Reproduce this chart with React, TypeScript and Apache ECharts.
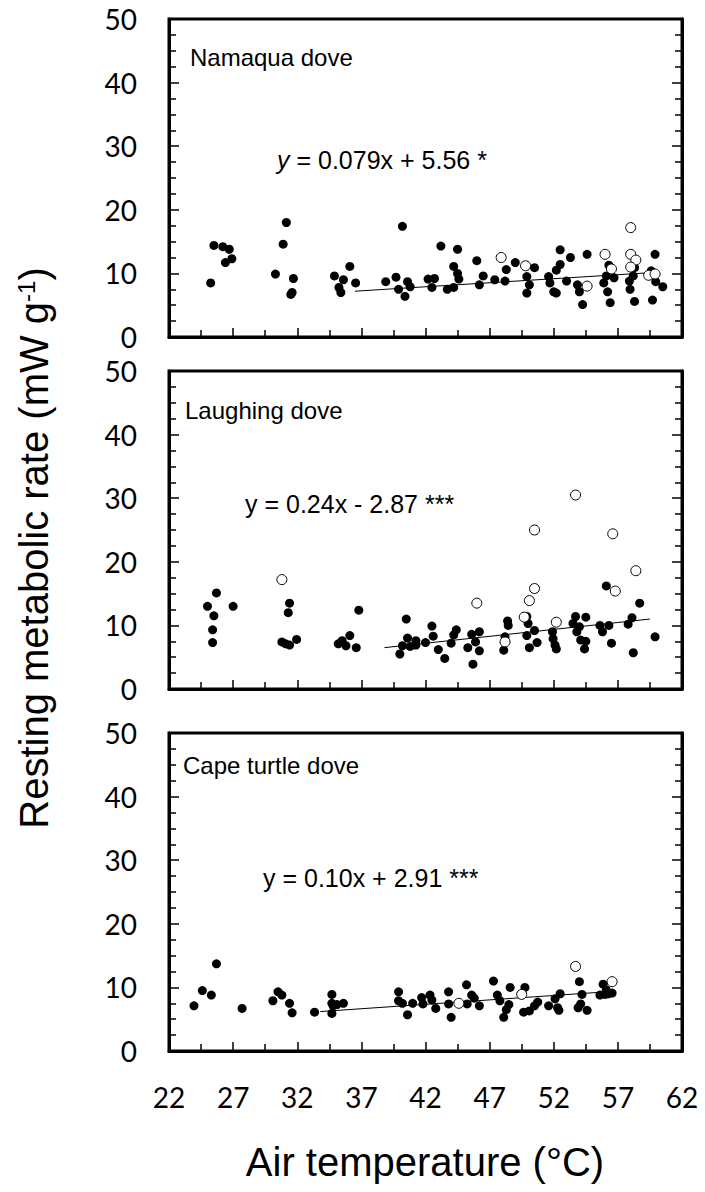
import React, { useEffect, useRef } from "react";
import * as echarts from "echarts";

// ---- data (air temperature °C, resting metabolic rate mW/g) ----
const panelTitles = ["Namaqua dove", "Laughing dove", "Cape turtle dove"];

const namaquaFilled: number[][] = [
  [25.25, 8.5], [25.5, 14.4], [26.2, 14.2], [26.7, 13.8], [26.9, 12.3], [26.4, 11.7],
  [30.3, 9.9], [30.9, 14.6], [31.15, 18.0], [31.7, 9.2], [31.5, 6.7], [31.6, 7.0],
  [34.9, 9.6], [35.25, 7.8], [35.4, 7.0], [35.6, 9.0], [36.1, 11.1], [36.55, 8.5],
  [38.9, 8.7], [39.7, 9.4], [40.2, 17.4], [39.9, 7.5], [40.4, 6.4], [40.6, 8.7], [40.8, 7.9],
  [42.2, 9.1], [42.7, 9.2], [42.5, 7.8], [43.2, 14.3],
  [44.5, 13.8], [44.2, 11.1], [44.5, 10.0], [44.6, 9.1], [43.7, 7.5], [44.2, 7.8],
  [46.0, 12.0], [46.5, 9.6], [46.2, 8.2], [47.4, 9.0], [48.3, 10.6], [48.2, 8.8], [49.0, 11.7],
  [50.5, 10.9], [49.9, 9.5], [50.1, 8.2], [49.9, 6.9], [51.6, 9.5], [51.7, 8.5],
  [52.5, 13.7], [52.5, 11.4], [52.2, 10.5], [53.3, 12.5], [52.0, 7.1], [52.2, 6.9], [53.0, 8.8],
  [53.85, 8.2], [54.0, 7.1], [54.25, 5.1], [54.6, 13.0],
  [56.3, 11.3], [56.1, 9.6], [55.9, 8.5], [56.7, 9.3], [56.2, 7.1], [56.4, 5.4],
  [58.3, 10.9], [58.2, 9.6], [57.9, 8.8], [57.95, 7.5], [58.3, 5.6],
  [59.9, 13.0], [59.6, 10.4], [59.95, 8.7], [60.5, 7.9], [59.7, 5.8],
];
const namaquaOpen: number[][] = [
  [47.9, 12.5], [49.8, 11.2], [54.6, 8.0], [56.0, 13.0], [56.5, 10.7],
  [58.0, 17.2], [58.0, 13.0], [58.4, 12.1], [58.0, 11.0], [59.4, 9.7], [59.9, 9.9],
];
const namaquaFit: number[][] = [[36.5, 7.2], [60.2, 10.2]];

const laughingFilled: number[][] = [
  [25.0, 13.0], [25.7, 15.1], [25.5, 11.5], [25.4, 9.3], [25.4, 7.3], [27.0, 13.0],
  [31.4, 13.5], [31.3, 12.0], [30.8, 7.4], [31.1, 7.1], [31.4, 6.9], [31.95, 7.8],
  [35.2, 7.1], [35.5, 7.6], [35.8, 6.8], [36.1, 8.4], [36.6, 6.5], [36.8, 12.4],
  [40.0, 5.5], [40.2, 6.8], [40.5, 11.0], [40.6, 8.0], [40.8, 6.7], [41.25, 7.6], [41.25, 6.9],
  [42.0, 7.3], [42.5, 9.9], [42.6, 8.3], [43.0, 6.2],
  [43.5, 4.8], [44.2, 8.5], [44.4, 9.3], [44.0, 7.2],
  [45.3, 6.5], [45.6, 8.6], [46.2, 9.0], [45.9, 7.4], [46.2, 6.0], [45.7, 3.9],
  [48.2, 8.2], [48.4, 10.7], [48.45, 10.0], [48.1, 6.1],
  [49.9, 11.4], [50.0, 10.3], [50.5, 9.2], [49.9, 8.4], [50.7, 7.3], [50.1, 6.5],
  [51.9, 9.0], [51.95, 7.9], [52.1, 6.9], [52.2, 6.3],
  [53.7, 11.4], [53.5, 10.3], [54.0, 9.8], [54.5, 11.3], [54.1, 7.7], [54.5, 7.5], [54.4, 6.3], [53.8, 9.0],
  [55.6, 10.0], [55.8, 9.0], [56.3, 10.0], [56.5, 7.2], [56.1, 16.2],
  [58.1, 11.2], [57.8, 10.2], [58.2, 5.7], [58.7, 13.5], [59.9, 8.2],
];
const laughingOpen: number[][] = [
  [30.8, 17.2], [46.0, 13.5], [48.2, 7.4], [49.7, 11.3], [50.1, 13.9], [50.5, 15.8],
  [50.5, 25.0], [52.2, 10.5], [53.7, 30.5], [56.6, 24.4], [56.8, 15.4], [58.4, 18.6],
];
const laughingFit: number[][] = [[38.8, 6.5], [59.5, 11.0]];

const capeFilled: number[][] = [
  [23.95, 7.1], [24.6, 9.5], [25.3, 8.8], [25.7, 13.7], [27.7, 6.7],
  [30.1, 7.9], [30.5, 9.3], [30.8, 8.8], [31.4, 7.5], [31.6, 6.0],
  [33.35, 6.1], [34.7, 8.9], [34.7, 7.5], [34.8, 7.1], [34.7, 5.9], [35.1, 7.3], [35.6, 7.5],
  [39.9, 9.3], [39.9, 7.9], [40.2, 7.5], [40.6, 5.7], [41.0, 7.5], [41.7, 8.4], [41.8, 7.4],
  [42.35, 8.8], [42.5, 8.0], [42.8, 6.7], [43.8, 9.3], [43.8, 7.4], [44.0, 5.3],
  [45.2, 10.4], [45.25, 7.4], [45.6, 8.8], [45.8, 8.3], [46.2, 7.1],
  [47.3, 11.0], [47.6, 8.8], [47.8, 7.9], [48.3, 6.5], [48.1, 5.3], [48.5, 7.3], [48.6, 10.0],
  [49.75, 10.0], [49.65, 6.1], [50.1, 6.3], [50.5, 7.1], [50.75, 7.7],
  [51.6, 7.1], [52.1, 8.2], [52.3, 6.8], [52.4, 6.4], [52.5, 9.0],
  [53.9, 6.8], [54.1, 7.4], [54.2, 8.9], [54.6, 6.4], [54.0, 10.9],
  [55.6, 8.8], [56.0, 8.9], [56.25, 9.0], [55.85, 10.5], [56.1, 9.6], [56.55, 9.1],
];
const capeOpen: number[][] = [[44.6, 7.5], [49.5, 8.9], [53.7, 13.3], [56.55, 10.9]];
const capeFit: number[][] = [[33.8, 6.2], [56.8, 9.4]];

const xMin = 22;
const xMax = 62;
const xStep = 5;
const yMin = 0;
const yMax = 50;
const yStep = 10;

const filledSets = [namaquaFilled, laughingFilled, capeFilled];
const openSets = [namaquaOpen, laughingOpen, capeOpen];
const fitSets = [namaquaFit, laughingFit, capeFit];

const equations = [
  "{i|y} = 0.079x + 5.56 *",
  "y = 0.24x - 2.87 ***",
  "y = 0.10x + 2.91 ***",
];

// ---- layout ----
const gridLeft = 169;
const gridWidth = 513;
const gridHeight = 318;
const gridTops = [19, 371, 733];
const tickFont = "Lato";
const textFont = "Liberation Sans";

export default function App() {
  const ref = useRef<HTMLDivElement>(null);

  useEffect(() => {
    if (!ref.current) return;
    const chart = echarts.init(ref.current, undefined, { renderer: "svg" });

    const grid = gridTops.map((top) => ({
      left: gridLeft,
      top,
      width: gridWidth,
      height: gridHeight,
      show: true,
      borderColor: "#000",
      borderWidth: 3,
    }));

    const lineCommon = { lineStyle: { color: "#000", width: 3 } };

    const xAxis = gridTops.map((_, i) => ({
      gridIndex: i,
      type: "value",
      min: xMin,
      max: xMax,
      interval: xStep,
      axisLine: { show: true, ...lineCommon },
      axisTick: { show: true, inside: true, length: 9, lineStyle: { color: "#000", width: 1.5 } },
      minorTick: { show: true, splitNumber: 2, length: 7, lineStyle: { color: "#000", width: 1.5 } },
      splitLine: { show: false },
      axisLabel: {
        show: i === 2,
        margin: 32,
        color: "#000",
        fontFamily: tickFont,
        fontSize: 28,
      },
    }));

    const yAxis: any[] = [];
    gridTops.forEach((_, i) => {
      yAxis.push({
        gridIndex: i,
        type: "value",
        position: "left",
        min: yMin,
        max: yMax,
        interval: yStep,
        axisLine: { show: true, ...lineCommon },
        axisTick: { show: true, inside: true, length: 10, lineStyle: { color: "#000", width: 1.5 } },
        minorTick: { show: true, splitNumber: 4, length: 7, lineStyle: { color: "#000", width: 1.5 } },
        splitLine: { show: false },
        axisLabel: {
          margin: 32,
          color: "#000",
          fontFamily: tickFont,
          fontSize: 28,
          padding: [12, 0, 0, 0],
        },
      });
      yAxis.push({
        gridIndex: i,
        type: "value",
        position: "right",
        min: yMin,
        max: yMax,
        interval: yStep,
        axisLine: { show: true, ...lineCommon },
        axisTick: { show: true, inside: true, length: 10, lineStyle: { color: "#000", width: 1.5 } },
        minorTick: { show: true, splitNumber: 4, length: 7, lineStyle: { color: "#000", width: 1.5 } },
        splitLine: { show: false },
        axisLabel: { show: false },
      });
    });

    const series: any[] = [];
    gridTops.forEach((_, i) => {
      series.push({
        type: "line",
        xAxisIndex: i,
        yAxisIndex: 2 * i,
        data: fitSets[i],
        symbol: "none",
        lineStyle: { color: "#000", width: 1 },
        z: 2,
      });
      series.push({
        type: "scatter",
        xAxisIndex: i,
        yAxisIndex: 2 * i,
        data: filledSets[i],
        symbol: "circle",
        symbolSize: 9,
        itemStyle: { color: "#000", opacity: 1 },
        z: 3,
      });
      series.push({
        type: "scatter",
        xAxisIndex: i,
        yAxisIndex: 2 * i,
        data: openSets[i],
        symbol: "circle",
        symbolSize: 10,
        itemStyle: { color: "#fff", borderColor: "#000", borderWidth: 1, opacity: 1 },
        z: 4,
      });
    });

    const titleX = [190, 185, 183];
    const titleY = [57, 410, 765];
    const eqX = [277, 245, 263];
    const eqY = [160, 504, 878];

    const graphic: any[] = [];
    gridTops.forEach((_, i) => {
      graphic.push({
        type: "text",
        x: titleX[i],
        y: titleY[i],
        style: {
          text: panelTitles[i],
          fontFamily: textFont,
          fontSize: 24,
          fill: "#000",
          align: "left",
          verticalAlign: "middle",
          textAlign: "left",
          textVerticalAlign: "middle",
        },
      });
      graphic.push({
        type: "text",
        x: eqX[i],
        y: eqY[i],
        style: {
          text: equations[i],
          fontFamily: textFont,
          fontSize: 25,
          fill: "#000",
          align: "left",
          verticalAlign: "middle",
          textAlign: "left",
          textVerticalAlign: "middle",
          rich: {
            i: { fontFamily: textFont, fontSize: 25, fontStyle: "italic", fill: "#000" },
          },
        },
      });
    });

    graphic.push({
      type: "text",
      x: 34,
      y: 548,
      rotation: Math.PI / 2,
      style: {
        text: "{a|Resting metabolic rate (mW g}{s|-1}{a|)}",
        fill: "#000",
        align: "center",
        verticalAlign: "middle",
        textAlign: "center",
        textVerticalAlign: "middle",
        fontFamily: textFont,
        fontSize: 40,
        rich: {
          a: { fontFamily: textFont, fontSize: 40, fill: "#000" },
          s: { fontFamily: textFont, fontSize: 24, fill: "#000", verticalAlign: "top" },
        },
      },
    });

    graphic.push({
      type: "text",
      x: 425,
      y: 1162,
      style: {
        text: "Air temperature (°C)",
        fill: "#000",
        fontFamily: textFont,
        fontSize: 40,
        align: "center",
        verticalAlign: "middle",
        textAlign: "center",
        textVerticalAlign: "middle",
      },
    });

    chart.setOption({
      animation: false,
      backgroundColor: "#fff",
      grid,
      xAxis,
      yAxis,
      series,
      graphic,
    });

    return () => {
      chart.dispose();
    };
  }, []);

  return (
    <div
      ref={ref}
      style={{ position: "absolute", left: 0, top: 0, width: 705, height: 1192 }}
    />
  );
}
